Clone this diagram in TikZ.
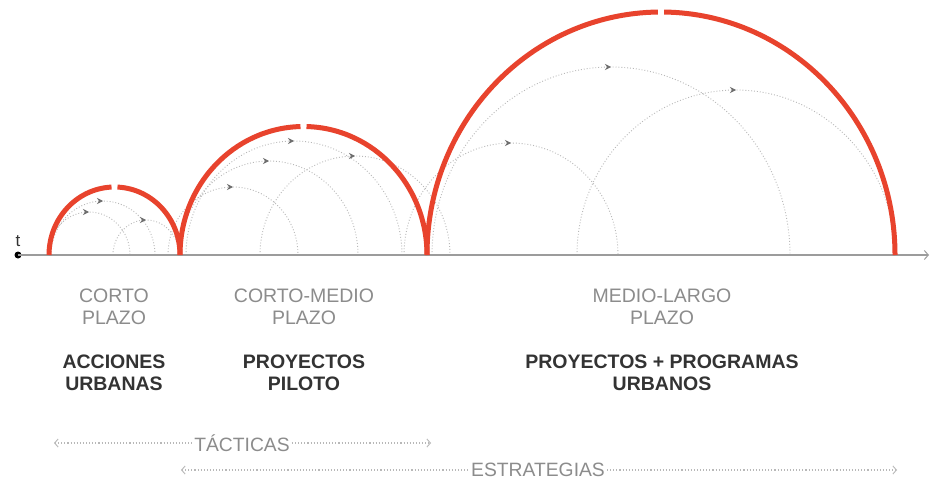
\documentclass[tikz,border=0pt]{standalone}
\usepackage{fontspec}
\setmainfont{Liberation Sans}
\usetikzlibrary{arrows.meta,decorations.markings}
\definecolor{arcred}{HTML}{E8432D}
\definecolor{lighttxt}{HTML}{8C8C8C}
\definecolor{darktxt}{HTML}{333333}
\definecolor{dotgray}{HTML}{B8B8B8}
\definecolor{axisgray}{HTML}{9C9C9C}
\definecolor{tipgray}{HTML}{6E6E6E}
\begin{document}
\begin{tikzpicture}[x=1pt,y=1pt,
  redline/.style={draw=arcred, line width=5pt},
  grayarc/.style={draw=dotgray, line width=0.9pt, dotted, postaction={decorate},
    decoration={markings, mark=at position 0.5 with {\arrow[tipgray]{Stealth[length=6pt,width=6pt]}}}},
  axisline/.style={draw=axisgray, line width=1.2pt},
  rangeline/.style={draw=dotgray, line width=1.1pt, dotted},
  lighttext/.style={text=lighttxt, align=center, font=\fontsize{19.5}{22}\selectfont},
  boldtext/.style={text=darktxt, align=center, font=\fontsize{19.5}{22}\selectfont\bfseries},
  rangetext/.style={text=lighttxt, inner sep=2pt, font=\fontsize{19.3}{22}\selectfont}
]
\useasboundingbox (0,0) rectangle (931,483);
\fill[white] (0,0) rectangle (931,483);

% gray dotted arcs (small)
\draw[grayarc] (51,228) arc[start angle=180,end angle=0,x radius=52,y radius=54];
\draw[grayarc] (48,228) arc[start angle=180,end angle=0,x radius=41,y radius=43];
\draw[grayarc] (113,228) arc[start angle=180,end angle=0,x radius=33,y radius=35];
% gray dotted arcs (medium)
\draw[grayarc] (168,228) arc[start angle=180,end angle=0,x radius=65,y radius=68];
\draw[grayarc] (186,228) arc[start angle=180,end angle=0,x radius=108,y radius=114];
\draw[grayarc] (180,228) arc[start angle=180,end angle=0,x radius=89,y radius=94];
\draw[grayarc] (260,228) arc[start angle=180,end angle=0,x radius=95,y radius=99];
% gray dotted arcs (large)
\draw[grayarc] (404,228) arc[start angle=180,end angle=0,x radius=107,y radius=112];
\draw[grayarc] (432,228) arc[start angle=180,end angle=0,x radius=179,y radius=188];
\draw[grayarc] (577,228) arc[start angle=180,end angle=0,x radius=159,y radius=165];

% time axis
\node[circle, fill=black, inner sep=0pt, minimum size=7pt] (t0) at (18,228) {};
\coordinate (axend) at (929,228);
\draw[axisline, -{Straight Barb[length=4pt,width=9pt,line width=1pt]}] (t0.center) -- (axend);
\node[text=darktxt, font=\fontsize{17}{17}\selectfont, anchor=south] (tlabel) at (18,233) {t};

% red arcs with a gap at the top
\draw[redline] (49,228) arc[start angle=180,end angle=92.6,x radius=65.5,y radius=68];
\draw[redline] (114.5,228) ++(87.4:65.5 and 68) arc[start angle=87.4,end angle=0,x radius=65.5,y radius=68];
\draw[redline] (180,228) arc[start angle=180,end angle=91.4,x radius=123.5,y radius=128.5];
\draw[redline] (303.5,228) ++(88.6:123.5 and 128.5) arc[start angle=88.6,end angle=0,x radius=123.5,y radius=128.5];
\draw[redline] (427,228) arc[start angle=180,end angle=90.75,x radius=234,y radius=243];
\draw[redline] (661,228) ++(89.25:234 and 243) arc[start angle=89.25,end angle=0,x radius=234,y radius=243];

% labels
\node[lighttext] (p1) at (114,176) {CORTO\\PLAZO};
\node[lighttext] (p2) at (304,176) {CORTO-MEDIO\\PLAZO};
\node[lighttext] (p3) at (662,176) {MEDIO-LARGO\\PLAZO};
\node[boldtext] (b1) at (114,110) {ACCIONES\\URBANAS};
\node[boldtext] (b2) at (304,110) {PROYECTOS\\PILOTO};
\node[boldtext] (b3) at (662,110) {PROYECTOS + PROGRAMAS\\URBANOS};

% tacticas / estrategias ranges
\node[rangetext] (tac) at (242,40) {TÁCTICAS};
\coordinate (tacL) at (54,40);
\coordinate (tacR) at (431,40);
\draw[rangeline, {Straight Barb[length=3.5pt,width=8pt,line width=0.9pt]}-] (tacL) -- (tac.west);
\draw[rangeline, -{Straight Barb[length=3.5pt,width=8pt,line width=0.9pt]}] (tac.east) -- (tacR);

\node[rangetext] (est) at (538,13) {ESTRATEGIAS};
\coordinate (estL) at (181,13);
\coordinate (estR) at (897,13);
\draw[rangeline, {Straight Barb[length=3.5pt,width=8pt,line width=0.9pt]}-] (estL) -- (est.west);
\draw[rangeline, -{Straight Barb[length=3.5pt,width=8pt,line width=0.9pt]}] (est.east) -- (estR);
\end{tikzpicture}
\end{document}
